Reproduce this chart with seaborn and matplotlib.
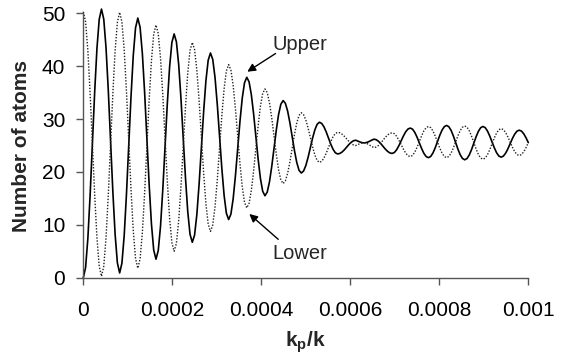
import numpy as np
import pandas as pd
import matplotlib
matplotlib.use("Agg")
import matplotlib.pyplot as plt
import seaborn as sns

x_min, x_max, n_samples = 0.0, 0.001, 197

upper = [
    0.00, 1.94, 7.44, 15.68, 25.40, 35.12, 43.36, 48.86,
    50.80, 48.90, 43.49, 35.40, 25.85, 16.30, 8.21, 2.80,
    0.90, 2.74, 7.96, 15.78, 25.00, 34.22, 42.04, 47.26,
    49.10, 47.36, 42.42, 35.02, 26.30, 17.58, 10.18, 5.24,
    3.50, 5.12, 9.74, 16.65, 24.80, 32.95, 39.86, 44.48,
    46.10, 44.60, 40.33, 33.94, 26.40, 18.86, 12.47, 8.20,
    6.70, 8.06, 11.94, 17.75, 24.60, 31.45, 37.26, 41.14,
    42.50, 41.30, 37.89, 32.78, 26.75, 20.72, 15.61, 12.20,
    11.00, 12.02, 14.94, 19.30, 24.45, 29.60, 33.96, 36.88,
    37.90, 37.05, 34.62, 30.99, 26.70, 22.41, 18.78, 16.35,
    15.50, 16.19, 18.14, 21.06, 24.50, 27.94, 30.86, 32.81,
    33.50, 32.98, 31.49, 29.27, 26.65, 24.03, 21.81, 20.32,
    19.80, 20.17, 21.21, 22.76, 24.60, 26.44, 27.99, 29.03,
    29.40, 29.17, 28.52, 27.55, 26.40, 25.25, 24.28, 23.63,
    23.40, 23.50, 23.78, 24.20, 24.70, 25.20, 25.62, 25.90,
    26.00, 25.82, 25.64, 25.52, 25.50, 25.60, 25.78, 26.01,
    26.20, 26.10, 25.80, 25.37, 24.85, 24.33, 23.90, 23.60,
    23.50, 23.68, 24.20, 24.98, 25.90, 26.82, 27.60, 28.12,
    28.30, 28.09, 27.48, 26.57, 25.50, 24.43, 23.52, 22.91,
    22.70, 22.93, 23.59, 24.58, 25.75, 26.92, 27.91, 28.57,
    28.80, 28.55, 27.85, 26.79, 25.55, 24.31, 23.25, 22.55,
    22.30, 22.54, 23.22, 24.24, 25.45, 26.66, 27.68, 28.36,
    28.60, 28.38, 27.75, 26.81, 25.70, 24.59, 23.65, 23.02,
    22.80, 22.99, 23.55, 24.37, 25.35, 26.33, 27.15, 27.71,
    27.90, 27.72, 27.21, 26.45, 25.55,
]

lower = [
    50.30, 48.39, 42.97, 34.85, 25.27, 15.70, 7.58, 2.16,
    0.25, 2.15, 7.56, 15.67, 25.23, 34.78, 42.89, 48.30,
    50.20, 48.36, 43.11, 35.26, 26.00, 16.74, 8.89, 3.64,
    1.80, 3.55, 8.53, 16.00, 24.80, 33.60, 41.07, 46.05,
    47.80, 46.17, 41.53, 34.59, 26.40, 18.21, 11.27, 6.63,
    5.00, 6.50, 10.78, 17.19, 24.75, 32.31, 38.72, 43.00,
    44.50, 43.14, 39.27, 33.46, 26.62, 19.79, 13.98, 10.11,
    8.75, 9.95, 13.37, 18.49, 24.53, 30.56, 35.68, 39.10,
    40.30, 39.27, 36.33, 31.93, 26.75, 21.57, 17.17, 14.23,
    13.20, 14.06, 16.49, 20.15, 24.45, 28.75, 32.41, 34.84,
    35.70, 35.02, 33.08, 30.17, 26.75, 23.33, 20.42, 18.48,
    17.80, 18.31, 19.76, 21.94, 24.50, 27.06, 29.24, 30.69,
    31.20, 30.84, 29.82, 28.30, 26.50, 24.70, 23.18, 22.16,
    21.80, 22.02, 22.63, 23.56, 24.65, 25.74, 26.67, 27.28,
    27.50, 27.40, 27.13, 26.73, 26.25, 25.77, 25.37, 25.10,
    25.00, 25.20, 25.39, 25.51, 25.50, 25.36, 25.11, 24.83,
    24.60, 24.71, 25.01, 25.46, 26.00, 26.54, 26.99, 27.29,
    27.40, 27.23, 26.74, 26.01, 25.15, 24.29, 23.56, 23.07,
    22.90, 23.12, 23.73, 24.66, 25.75, 26.84, 27.77, 28.38,
    28.60, 28.38, 27.74, 26.78, 25.65, 24.52, 23.56, 22.92,
    22.70, 22.93, 23.58, 24.55, 25.70, 26.85, 27.82, 28.47,
    28.70, 28.46, 27.78, 26.76, 25.55, 24.34, 23.32, 22.64,
    22.40, 22.62, 23.25, 24.19, 25.30, 26.41, 27.35, 27.98,
    28.20, 28.01, 27.45, 26.63, 25.65, 24.67, 23.85, 23.29,
    23.10, 23.29, 23.82, 24.61, 25.55,
]

x_ticks = [0, 0.0002, 0.0004, 0.0006, 0.0008, 0.001]
x_tick_labels = ["0", "0.0002", "0.0004", "0.0006", "0.0008", "0.001"]
y_ticks = [0, 10, 20, 30, 40, 50]

x = np.linspace(x_min, x_max, n_samples)
df = pd.DataFrame({"x": x, "Upper": upper, "Lower": lower})

# ---- style ----
sns.set_style("ticks")
plt.rcParams["font.family"] = ["Liberation Sans", "DejaVu Sans"]
plt.rcParams["mathtext.fontset"] = "custom"
plt.rcParams["mathtext.rm"] = "Liberation Sans"
plt.rcParams["mathtext.bf"] = "Liberation Sans:bold"
plt.rcParams["mathtext.it"] = "Liberation Sans:italic"

fig = plt.figure(figsize=(5.63, 3.6), dpi=100)
ax = fig.add_axes([0.148, 0.2286, 0.7904, 0.7344])

sns.lineplot(data=df, x="x", y="Upper", ax=ax, color="black",
             linewidth=1.2, clip_on=False)
sns.lineplot(data=df, x="x", y="Lower", ax=ax, color="#222222",
             linewidth=1.0, linestyle=(0, (1, 1.2)), clip_on=False)

ax.set_xlim(0, 0.001)
ax.set_ylim(0, 50)
ax.set_xticks(x_ticks)
ax.set_xticklabels(x_tick_labels)
ax.set_yticks(y_ticks)

for s in ["top", "right"]:
    ax.spines[s].set_visible(False)
for s in ["left", "bottom"]:
    ax.spines[s].set_color("#555555")
    ax.spines[s].set_linewidth(1.0)

ax.tick_params(axis="both", direction="out", length=5, width=1,
               color="#555555", labelsize=15, labelcolor="black")
ax.tick_params(axis="x", pad=12)
ax.tick_params(axis="y", pad=8)

ax.set_xlabel(r"$\mathbf{k_p/k}$", fontsize=15)
ax.set_ylabel("Number of atoms", fontsize=15, fontweight="bold")
ax.xaxis.set_label_coords(0.5, -0.243)
ax.xaxis.label.set_va("center")
ax.yaxis.set_label_coords(-0.14, 0.5)
ax.yaxis.label.set_va("center")

# annotations
ax.text(0.0004247, 43.06, "Upper", fontsize=14.5, ha="left", va="baseline")
ax.text(0.0004247, 3.48, "Lower", fontsize=14.5, ha="left", va="baseline")
arrow = dict(arrowstyle="-|>", color="black", lw=1, mutation_scale=12,
             shrinkA=0, shrinkB=0)
ax.annotate("", xy=(0.0003685, 38.96), xytext=(0.000432, 42.4),
            arrowprops=arrow)
ax.annotate("", xy=(0.000373, 12.05), xytext=(0.000438, 7.26),
            arrowprops=arrow)

fig.savefig("out.png", dpi=100)
